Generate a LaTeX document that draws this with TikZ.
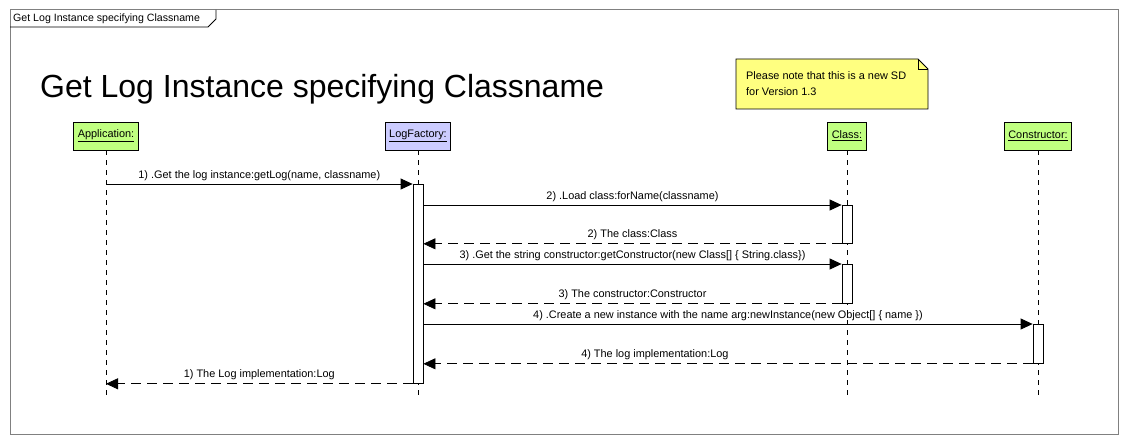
\documentclass[tikz,border=0pt]{standalone}
\usepackage{fontspec}
\setmainfont{Liberation Sans}
\usetikzlibrary{arrows.meta,positioning,calc}
\definecolor{headgreen}{RGB}{192,255,128}
\definecolor{headblue}{RGB}{204,204,255}
\definecolor{noteyellow}{RGB}{255,255,128}
\definecolor{framegray}{RGB}{128,128,128}
\newcommand{\obj}[1]{\underline{#1}}

\begin{document}
\begin{tikzpicture}[x=1pt,y=-1pt,>={Triangle[length=12pt,width=11pt]},font=\fontsize{10.9}{13}\selectfont,
  head/.style={draw,line width=0.8pt,fill=headgreen,minimum height=28pt,inner xsep=4pt},
  lifeline/.style={line width=0.8pt,dash pattern=on 5pt off 5pt},
  actbar/.style={draw,line width=0.8pt,fill=white,minimum width=10pt,anchor=north,inner sep=0pt},
  msg/.style={->,line width=0.8pt},
  reply/.style={->,line width=0.8pt,dash pattern=on 10pt off 6pt}]
  \useasboundingbox[fill=white] (0,0) rectangle (1128,444);
  \draw[framegray,line width=1pt] (10,10) rectangle (1118,434);
  \node[anchor=west,inner sep=0pt,font=\fontsize{10.6}{12}\selectfont] (tab) at (13,19) {Get Log Instance specifying Classname};
  \draw[line width=0.8pt] (10,27) -- (208,27) -- (216,19) -- (216,10);
  \node[anchor=base west,inner sep=0pt,font=\fontsize{32}{38}\selectfont] (title) at (40,98) {Get Log Instance specifying Classname};

  \draw[line width=0.8pt,fill=noteyellow] (736,59) -- (918,59) -- (928,69) -- (928,109) -- (736,109) -- cycle;
  \draw[line width=0.8pt] (918,59) -- (918,69) -- (928,69);
  \node[anchor=north west,align=left,inner sep=0pt] (note) at (746,71) {Please note that this is a new SD\\[3pt]for Version 1.3};

  \node[head] (app) at (106,136) {\obj{Application:}};
  \node[head,fill=headblue] (lf) at (418,136) {\obj{LogFactory:}};
  \node[head] (cls) at (847,136) {\obj{Class:}};
  \node[head] (ctor) at (1038,136) {\obj{Constructor:}};
  \foreach \o in {app,lf,cls,ctor}
    \draw[lifeline] (\o.south) -- (\o.south |- 0,398);

  \node[actbar,minimum height=199pt] (actlf) at (lf.south |- 0,184) {};
  \node[actbar,minimum height=38pt] (actc1) at (cls.south |- 0,205) {};
  \node[actbar,minimum height=39pt] (actc2) at (cls.south |- 0,264) {};
  \node[actbar,minimum height=39pt] (actk) at (ctor.south |- 0,324) {};

  \draw[msg] (app.south |- actlf.north) -- (actlf.north west) node[midway,above] {1) .Get the log instance:getLog(name, classname)};
  \draw[msg] (actlf.east |- actc1.north) -- (actc1.north west) node[midway,above] {2) .Load class:forName(classname)};
  \draw[reply] (actc1.south west) -- (actlf.east |- actc1.south) node[midway,above] {2) The class:Class};
  \draw[msg] (actlf.east |- actc2.north) -- (actc2.north west) node[midway,above] {3) .Get the string constructor:getConstructor(new Class[] \{ String.class\})};
  \draw[reply] (actc2.south west) -- (actlf.east |- actc2.south) node[midway,above] {3) The constructor:Constructor};
  \draw[msg] (actlf.east |- actk.north) -- (actk.north west) node[midway,above] {4) .Create a new instance with the name arg:newInstance(new Object[] \{ name \})};
  \draw[reply] (actk.south west) -- (actlf.east |- actk.south) node[pos=0.62,above] {4) The log implementation:Log};
  \draw[reply] (actlf.south west) -- (app.south |- actlf.south) node[midway,above] {1) The Log implementation:Log};
\end{tikzpicture}
\end{document}
